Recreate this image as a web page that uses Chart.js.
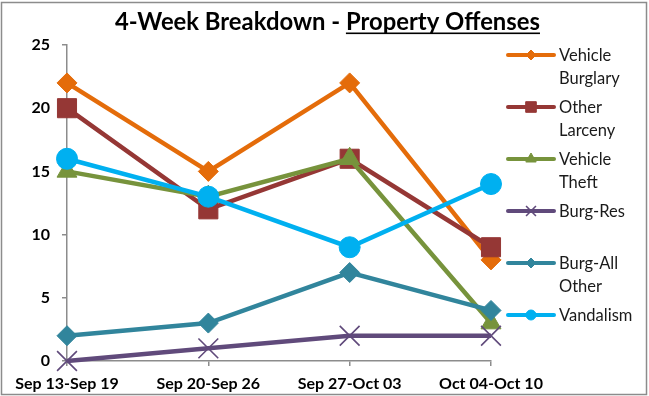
<!DOCTYPE html>
<html>
<head>
<meta charset="utf-8">
<script src="https://cdn.jsdelivr.net/npm/chart.js@4/dist/chart.umd.min.js"></script>
<style>
  html, body { margin: 0; padding: 0; background: #fff; }
  #wrap { width: 649px; height: 396px; position: relative; }
</style>
</head>
<body>
<div id="wrap"><canvas id="c" width="649" height="396"></canvas></div>
<script>
// Weekly periods
const weeks = ['Sep 13-Sep 19', 'Sep 20-Sep 26', 'Sep 27-Oct 03', 'Oct 04-Oct 10'];

// Offense counts per week
const vehicleBurglary = [22, 15, 22, 8];
const otherLarceny   = [20, 12, 16, 9];
const vehicleTheft   = [15, 13, 16, 3];
const burgRes        = [0, 1, 2, 2];
const burgAllOther   = [2, 3, 7, 4];
const vandalism      = [16, 13, 9, 14];

const yTicks = [0, 5, 10, 15, 20, 25];

const titleMain = '4-Week Breakdown - ';
const titleUnderlined = 'Property Offenses';

const FONT = 'Lato, "Open Sans", sans-serif';

function series(label, data, color, style, radius, legendRadius, order) {
  return {
    label, data,
    borderColor: color,
    backgroundColor: color,
    borderWidth: 4.5,
    pointStyle: style,
    pointRadius: radius,
    pointHoverRadius: radius,
    pointBackgroundColor: color,
    pointBorderColor: color,
    pointBorderWidth: style === 'crossRot' ? 1.6 : 1,
    tension: 0,
    clip: false,
    order,
    legendRadius
  };
}

const datasets = [
  series('Vehicle Burglary', vehicleBurglary, '#E46C0A', 'rectRot', 10, 5, 6),
  series('Other Larceny', otherLarceny, '#953735', 'rect', 13.5, 7.5, 5),
  series('Vehicle Theft', vehicleTheft, '#77933C', 'triangle', 11.5, 6, 4),
  series('Burg-Res', burgRes, '#604A7B', 'crossRot', 14, 7, 3),
  series('Burg-All Other', burgAllOther, '#31859C', 'rectRot', 10, 5, 2),
  series('Vandalism', vandalism, '#00B0F0', 'circle', 10.5, 5, 1)
];

// Frame, title and the wrapped side legend
const decor = {
  id: 'decor',
  afterDraw(chart) {
    const ctx = chart.ctx;
    ctx.save();

    // outer frame
    ctx.strokeStyle = '#8c8c8c';
    ctx.lineWidth = 1.5;
    ctx.strokeRect(1.5, 2.5, 645, 392);

    // title, sized to span 425px centred at x=327.5
    ctx.fillStyle = '#000';
    ctx.textBaseline = 'alphabetic';
    ctx.textAlign = 'left';
    let size = 21;
    ctx.font = 'bold ' + size + 'px ' + FONT;
    const full = ctx.measureText(titleMain + titleUnderlined).width;
    size = size * 425 / full;
    ctx.font = 'bold ' + size.toFixed(2) + 'px ' + FONT;
    const w1 = ctx.measureText(titleMain).width;
    const w2 = ctx.measureText(titleUnderlined).width;
    const x0 = 327.5 - (w1 + w2) / 2;
    const base = 30;
    ctx.fillText(titleMain, x0, base);
    ctx.fillText(titleUnderlined, x0 + w1, base);
    ctx.fillRect(x0 + w1, base + 2.5, w2, 1.6);

    // legend
    ctx.font = '16.5px ' + FONT;
    ctx.textBaseline = 'middle';
    const maxW = 88;
    chart.data.datasets.forEach((ds, i) => {
      const y = 55 + i * 52;
      ctx.strokeStyle = ds.borderColor;
      ctx.lineWidth = 4;
      ctx.lineCap = 'round';
      ctx.beginPath();
      ctx.moveTo(508, y);
      ctx.lineTo(554, y);
      ctx.stroke();
      ctx.lineCap = 'butt';
      ctx.fillStyle = ds.pointBackgroundColor;
      ctx.strokeStyle = ds.pointBorderColor;
      ctx.lineWidth = ds.pointStyle === 'crossRot' ? 1.6 : 1;
      Chart.helpers.drawPoint(ctx, {
        pointStyle: ds.pointStyle,
        radius: ds.legendRadius,
        borderWidth: ds.pointStyle === 'crossRot' ? 1.6 : 1,
        rotation: 0
      }, 531, y);
      // wrap label into lines
      const words = ds.label.split(' ');
      const lines = [];
      let cur = '';
      words.forEach(wd => {
        const t = cur ? cur + ' ' + wd : wd;
        if (cur && ctx.measureText(t).width > maxW) { lines.push(cur); cur = wd; }
        else cur = t;
      });
      if (cur) lines.push(cur);
      ctx.fillStyle = '#1a1a1a';
      ctx.textAlign = 'left';
      lines.forEach((ln, k) => ctx.fillText(ln, 559, y + 1 + k * 23));
    });
    ctx.restore();
  }
};

new Chart(document.getElementById('c'), {
  type: 'line',
  data: { labels: weeks, datasets },
  options: {
    responsive: false,
    animation: false,
    events: [],
    layout: { padding: { top: 45, right: 158, bottom: 0, left: 0 } },
    plugins: {
      legend: { display: false },
      tooltip: { enabled: false },
      title: { display: false }
    },
    scales: {
      x: {
        type: 'category',
        offset: false,
        grid: { drawOnChartArea: false, drawTicks: true, tickLength: 5, color: '#8c8c8c', lineWidth: 1.5 },
        border: { display: true, color: '#8c8c8c', width: 1.5 },
        ticks: {
          color: '#000',
          font: { family: FONT, size: 16, weight: 'bold' },
          padding: 8,
          maxRotation: 0,
          autoSkip: false
        },
        afterFit(scale) { scale.height = 35; }
      },
      y: {
        min: 0,
        max: 25,
        afterBuildTicks(scale) { scale.ticks = yTicks.map(v => ({ value: v })); },
        grid: { drawOnChartArea: false, drawTicks: true, tickLength: 5, color: '#8c8c8c', lineWidth: 1.5 },
        border: { display: true, color: '#8c8c8c', width: 1.5 },
        ticks: {
          color: '#000',
          font: { family: FONT, size: 16, weight: 'bold' },
          padding: 12
        },
        afterFit(scale) { scale.width = 67; }
      }
    }
  },
  plugins: [decor]
});
</script>
</body>
</html>
